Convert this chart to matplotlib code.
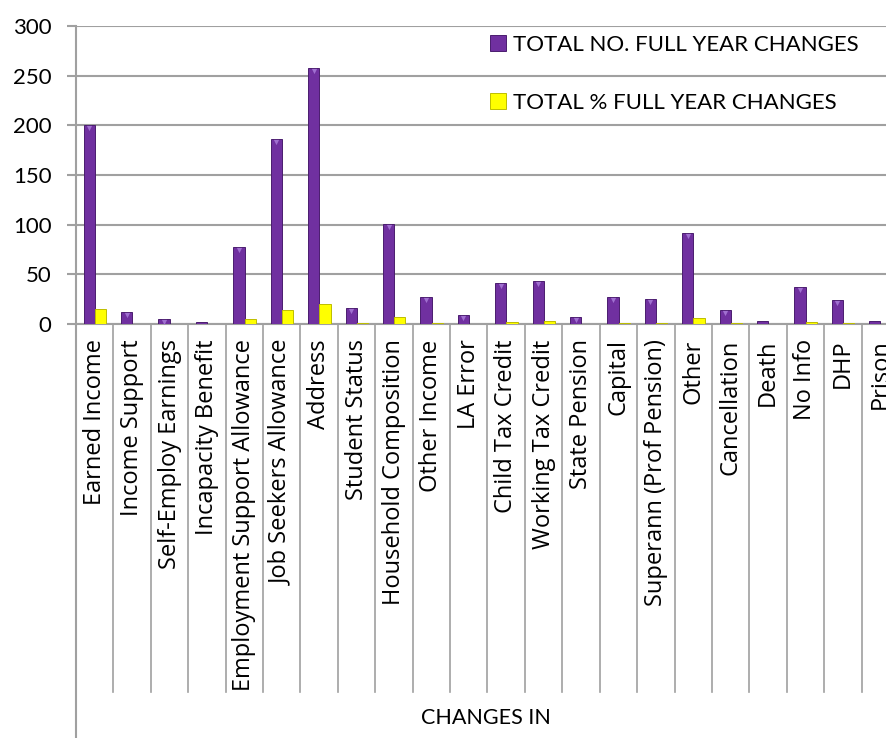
import numpy as np
import matplotlib.pyplot as plt
from matplotlib import transforms

# data
categories = ['Earned Income', 'Income Support', 'Self-Employ Earnings', 'Incapacity Benefit',
              'Employment Support Allowance', 'Job Seekers Allowance', 'Address', 'Student Status',
              'Household Composition', 'Other Income', 'LA Error', 'Child Tax Credit',
              'Working Tax Credit', 'State Pension', 'Capital', 'Superann (Prof Pension)',
              'Other', 'Cancellation', 'Death', 'No Info', 'DHP', 'Prison']
total_no = [200, 12, 5, 2, 78, 186, 258, 16, 101, 27, 9, 41, 43, 7, 27, 25, 92, 14, 3, 37, 24, 3]
total_pct = [15, 0.5, 0.3, 0.2, 5.5, 14.5, 20.5, 0.6, 7.5, 1.5, 0.5, 2.5, 3, 0.4, 1, 1, 6.5, 0.6, 0.2, 2.5, 1, 0.2]

FONT = 'Lato'
plt.rcParams['font.family'] = [FONT, 'DejaVu Sans']
fs = 15.5
grey = '#A0A0A0'

W, H = 886, 738
fig = plt.figure(figsize=(W / 100, H / 100), dpi=100)
# axes runs a little past the right edge, like the original (Prison is cut)
x0, x1, ytop, ybot = 76, 899, 26, 324
ax = fig.add_axes([x0 / W, 1 - ybot / H, (x1 - x0) / W, (ybot - ytop) / H])

x = np.arange(len(categories))
bw = 0.3
b1 = ax.bar(x - 0.145, total_no, bw, color='#7030A0', edgecolor='#4A1D6E', linewidth=0.7,
            label='TOTAL NO. FULL YEAR CHANGES', zorder=3)
b2 = ax.bar(x + 0.155, total_pct, bw, color='#FFFF00', edgecolor='#BDBD00', linewidth=0.7,
            label='TOTAL % FULL YEAR CHANGES', zorder=3)

# little bevel notch at the top of the purple bars
off = transforms.offset_copy(ax.transData, fig=fig, x=0, y=-3, units='dots')
tall = [i for i, v in enumerate(total_no) if v > 4]
ax.scatter(x[tall] - 0.145, [total_no[i] for i in tall], marker='v', s=14,
           color='#A070D0', linewidths=0, transform=off, zorder=4)

ax.set_xlim(-0.5, len(categories) - 0.5)
ax.set_ylim(0, 300)
ax.set_yticks(range(0, 301, 50))
ax.yaxis.grid(True, color=grey, linewidth=1.5)
ax.set_axisbelow(True)
for s in ['top', 'right']:
    ax.spines[s].set_visible(False)
ax.spines['left'].set_color(grey)
ax.spines['bottom'].set_color(grey)
ax.spines['left'].set_linewidth(1.5)
ax.spines['bottom'].set_linewidth(1.5)
ax.tick_params(axis='y', length=6.5, width=1.5, color=grey, labelsize=fs + 0.5, pad=11,
               direction='out')

ax.set_xticks(x)
ax.set_xticklabels(categories, rotation=90, va='top', ha='center', fontsize=17,
                   family=['Open Sans', 'DejaVu Sans'])
ax.tick_params(axis='x', length=0, pad=11)

# category separators and the long left axis line below the chart
tr = transforms.blended_transform_factory(ax.transData, ax.transAxes)
sep_bottom = -(692 - ybot) / (ybot - ytop)
for i in range(1, len(categories) + 1):
    ax.plot([i - 0.5, i - 0.5], [0, sep_bottom], transform=tr, color=grey,
            linewidth=1.2, clip_on=False)
ax.plot([-0.5, -0.5], [0, -(H - ybot) / (ybot - ytop)], transform=tr, color=grey,
        linewidth=1.5, clip_on=False)

fig.text(486 / W, 1 - 718 / H, 'CHANGES IN', ha='center', va='center', fontsize=fs)

ax.legend(handles=[b1, b2], loc='upper left', bbox_to_anchor=((481 - x0) / (x1 - x0), 1.0),
          frameon=False, fontsize=16, handlelength=0.73, handleheight=0.73,
          handletextpad=0.3, labelspacing=1.72, borderaxespad=0.0)

fig.savefig('out.png', dpi=100)
